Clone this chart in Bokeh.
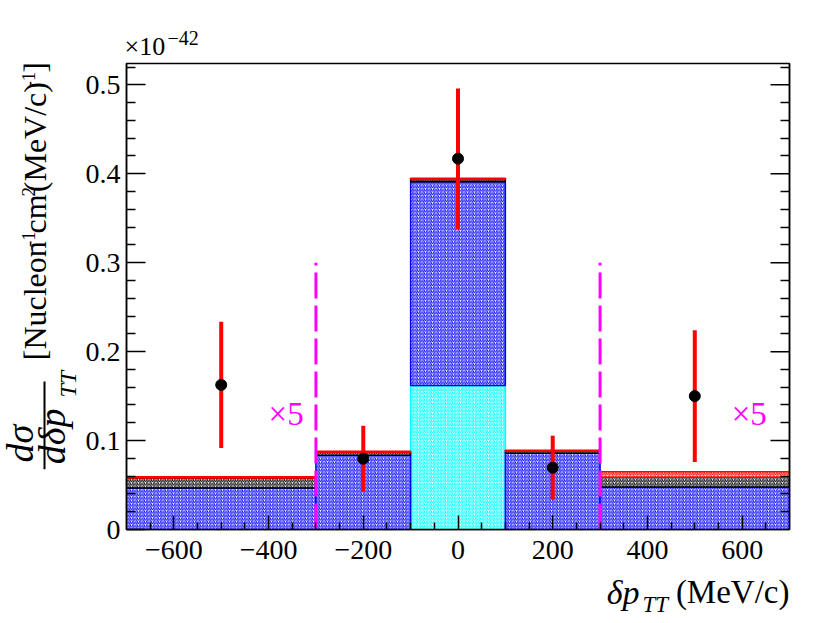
import math
import numpy as np
from bokeh.plotting import figure
from bokeh.layouts import column, row
from bokeh.models import Range1d, FixedTicker, LinearAxis, Label, ColumnDataSource
from bokeh.core.properties import value
from bokeh.embed import file_html
from bokeh.resources import INLINE

# ---------------- data (units of 1e-42) ----------------
bin_lo = [-700, -300, -100, 100, 300]
bin_hi = [-300, -100, 100, 300, 700]
cyan_part = [0.0, 0.0, 0.162, 0.0, 0.0]
blue_part = [0.0468, 0.0836, 0.229, 0.0857, 0.0478]
black_part = [0.0110, 0.0033, 0.0025, 0.0022, 0.0110]
red_part = [0.0015, 0.0011, 0.0015, 0.0011, 0.0060]

data_x = [-500, -200, 0, 200, 500]
data_y = [0.1626, 0.0796, 0.417, 0.0695, 0.150]
data_err = [0.071, 0.037, 0.079, 0.036, 0.074]

cut_x = [-300, 300]
cut_top = [0.3, 0.3]

note_x = [-400, 578]
note_y = [0.13, 0.13]
note_text = ["\u00d75", "\u00d75"]

x_ticks = [-600, -400, -200, 0, 200, 400, 600]
x_tick_labels = ["\u2212600", "\u2212400", "\u2212200", "0", "200", "400", "600"]
x_minor = [-650, -550, -500, -450, -350, -300, -250, -150, -100, -50,
           50, 100, 150, 250, 300, 350, 450, 500, 550, 650]
y_ticks = [0.0, 0.1, 0.2, 0.3, 0.4, 0.5]
y_tick_labels = ["0", "0.1", "0.2", "0.3", "0.4", "0.5"]
y_minor = [0.02, 0.04, 0.06, 0.08, 0.12, 0.14, 0.16, 0.18, 0.22, 0.24, 0.26, 0.28,
           0.32, 0.34, 0.36, 0.38, 0.42, 0.44, 0.46, 0.48, 0.52]

XMIN, XMAX, YMIN, YMAX = -700, 700, 0.0, 0.524

# ---------------- layout (window pixels) ----------------
W = 828
L_W = 82
T_H = 62
FR_L, FR_R, FR_T, FR_B = 124, 789, 63, 529
MAIN_BOTTOM = 572
MAIN_W = W - L_W
MAIN_H = MAIN_BOTTOM - T_H
B_H = 621 - MAIN_BOTTOM
SERIF = "Liberation Serif"
MID = 0.45   # distance (em) from baseline to Bokeh's "middle" anchor

TIMES = {'[': 333, ']': 333, '(': 333, ')': 333, 'N': 722, 'u': 500, 'c': 444, 'l': 278,
         'e': 444, 'o': 500, 'n': 500, 'm': 778, 'M': 889, 'V': 722, '/': 278, '-': 333,
         '1': 500, '2': 500, ' ': 250}


def tw(s, size):
    return sum(TIMES.get(ch, 500) for ch in s) / 1000.0 * size


# ---------------- main figure ----------------
p = figure(width=MAIN_W, height=MAIN_H, output_backend="svg", toolbar_location=None, title=None,
           x_range=Range1d(XMIN, XMAX), y_range=Range1d(YMIN, YMAX),
           min_border_left=FR_L - L_W, min_border_right=W - FR_R,
           min_border_top=FR_T - T_H, min_border_bottom=MAIN_BOTTOM - FR_B)
p.background_fill_color = "white"
p.border_fill_color = "white"
p.outline_line_color = "black"
p.outline_line_width = 1.5
p.xgrid.visible = False
p.ygrid.visible = False

xa = p.xaxis[0]
xa.ticker = FixedTicker(ticks=x_ticks, minor_ticks=x_minor)
xa.major_label_overrides = {t: l for t, l in zip(x_ticks, x_tick_labels)}
xa.major_tick_in = 14
xa.major_tick_out = 0
xa.minor_tick_in = 7
xa.minor_tick_out = 0
xa.major_label_standoff = 11
xa.axis_line_width = 1.5
xa.major_tick_line_width = 1.5
xa.minor_tick_line_width = 1.5
xa.major_label_text_font = SERIF
xa.major_label_text_font_size = "28px"
xa.major_label_text_color = "black"

ya = p.yaxis[0]
ya.ticker = FixedTicker(ticks=y_ticks, minor_ticks=y_minor)
ya.major_label_overrides = {t: l for t, l in zip(y_ticks, y_tick_labels)}
ya.major_tick_in = 19
ya.major_tick_out = 0
ya.minor_tick_in = 9
ya.minor_tick_out = 0
ya.major_label_standoff = 6
ya.axis_line_width = 1.5
ya.major_tick_line_width = 1.5
ya.minor_tick_line_width = 1.5
ya.major_label_text_font = SERIF
ya.major_label_text_font_size = "28px"
ya.major_label_text_color = "black"

# right axis: minor ticks only (no labels); long ticks drawn as rays from the right edge
ra = LinearAxis(ticker=FixedTicker(ticks=[], minor_ticks=y_minor),
                major_tick_in=0, major_tick_out=0, minor_tick_in=9, minor_tick_out=0,
                axis_line_width=1.5, minor_tick_line_width=1.5)
p.add_layout(ra, "right")
p.ray(x=[XMAX] * len(y_ticks), y=y_ticks, length=19, length_units="screen",
      angle=math.pi, line_color="black", line_width=1.5)

# stacked histogram
layers = [(cyan_part, "#00ffff"), (blue_part, "#0000ff"), (black_part, "#000000"), (red_part, "#ff0000")]
base = np.zeros(len(bin_lo))
for part, col in layers:
    part = np.asarray(part, dtype=float)
    top = base + part
    m = part > 0
    src = ColumnDataSource(dict(left=np.asarray(bin_lo)[m], right=np.asarray(bin_hi)[m],
                                bottom=base[m], top=top[m]))
    p.quad(left="left", right="right", bottom="bottom", top="top", source=src,
           fill_color="white", hatch_pattern="right_diagonal_line", hatch_color=col,
           hatch_scale=3.5, hatch_weight=1.0, line_color=col, line_width=1.5)
    base = top

# cut lines
p.segment(x0=cut_x, y0=[0, 0], x1=cut_x, y1=cut_top, line_color="#ff00ff",
          line_width=3, line_dash="26 7")

# data with error bars
dxa = np.asarray(data_x, dtype=float)
dya = np.asarray(data_y, dtype=float)
dea = np.asarray(data_err, dtype=float)
p.segment(x0=dxa, y0=dya - dea, x1=dxa, y1=dya + dea, line_color="#ff0000", line_width=4)
p.scatter(x=dxa, y=dya, size=11, color="black")

p.text(x=note_x, y=note_y, text=note_text, text_color="#ff00ff",
       text_font=value(SERIF), text_font_size="33px", text_baseline="alphabetic",
       text_align="left")


# ---------------- text strips around the main figure ----------------
def strip(w, h):
    f = figure(width=w, height=h, output_backend="svg", toolbar_location=None, title=None,
               x_range=Range1d(0, w), y_range=Range1d(0, h),
               x_axis_location=None, y_axis_location=None, min_border=0)
    f.outline_line_color = None
    f.background_fill_color = "white"
    f.border_fill_color = "white"
    f.grid.visible = False
    return f


top_fig = strip(W, T_H)
left_fig = strip(L_W, MAIN_H)
bot_fig = strip(W, B_H)


def hlab(fig, y0, h, px, base_py, text, size, style="normal", align="left"):
    # horizontal text; base_py = desired baseline (window px)
    fig.add_layout(Label(x=px, y=(y0 + h) - (base_py - MID * size), text=text,
                         text_font=SERIF, text_font_size=f"{size}px", text_font_style=style,
                         text_align=align, text_baseline="middle", text_color="black"))


def vlab(fig, y0, h, base_px, cy, text, size, style="normal"):
    # text rotated 90 deg (reads upwards); base_px = baseline x, cy = centre along the text
    fig.add_layout(Label(x=base_px - MID * size, y=(y0 + h) - cy, text=text,
                         text_font=SERIF, text_font_size=f"{size}px", text_font_style=style,
                         text_align="center", text_baseline="middle",
                         angle=math.pi / 2, text_color="black"))


# multiplier above the frame
hlab(top_fig, 0, T_H, 124, 58, "\u00d710", 26)
hlab(top_fig, 0, T_H, 167, 46, "\u221242", 20)

# x title
BY0 = MAIN_BOTTOM
hlab(bot_fig, BY0, B_H, 789, 606, "(MeV/c)", 33, align="right")
hlab(bot_fig, BY0, B_H, 639, 607, "\u03b4p", 34, style="italic", align="right")
hlab(bot_fig, BY0, B_H, 642, 614, "TT", 23, style="italic")

# y title: fraction
vlab(left_fig, T_H, MAIN_H, 37, 478, "d\u03c3", 38, style="italic")
vlab(left_fig, T_H, MAIN_H, 69, 470, "d\u03b4p", 38, style="italic")
vlab(left_fig, T_H, MAIN_H, 78, 413, "TT", 24, style="italic")
left_fig.segment(x0=[44], y0=[T_H + MAIN_H - 410], x1=[44], y1=[T_H + MAIN_H - 506],
                 line_color="black", line_width=2)

# y title: units with superscripts
pieces = [("[Nucleon", 32, False), ("-1", 19, True), ("cm", 32, False), ("2", 19, True),
          ("(MeV/c)", 32, False), ("-1", 19, True), ("]", 32, False)]
total = sum(tw(t, s) for t, s, _ in pieces)
ycur = 61.0 + total
for text, size, sup in pieces:
    w = tw(text, size)
    bx = 49 - (12 if sup else 0)
    vlab(left_fig, T_H, MAIN_H, bx, ycur - w / 2, text, size)
    ycur -= w

layout = column(top_fig, row(left_fig, p, spacing=0), bot_fig, spacing=0)
open("out.html", "w").write(file_html(layout, INLINE))
